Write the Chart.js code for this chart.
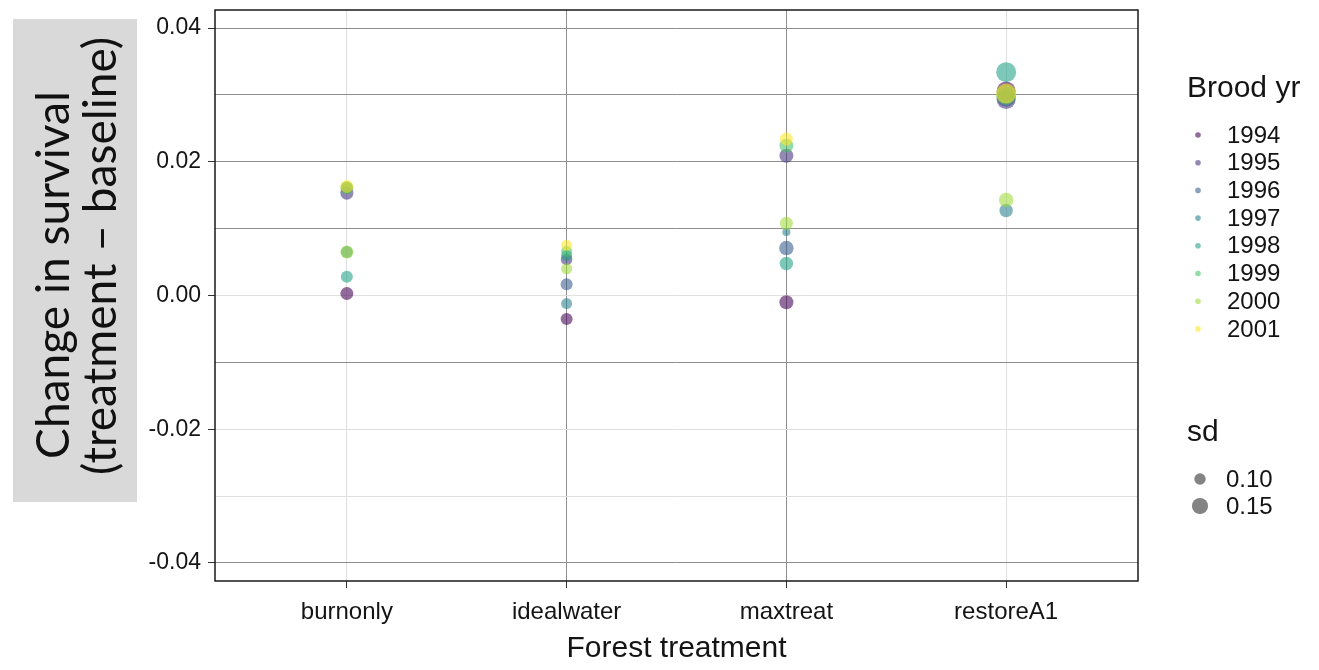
<!DOCTYPE html>
<html><head><meta charset="utf-8">
<script src="https://cdn.jsdelivr.net/npm/chart.js@4"></script>
<style>html,body{margin:0;padding:0;background:#fff;}#wrap{width:1319px;height:670px;}</style>
</head><body><div id="wrap"><canvas id="c" width="1319" height="670"></canvas></div>
<script>
// ---------- data ----------
const categories = ['burnonly', 'idealwater', 'maxtreat', 'restoreA1'];
const broodYears = ['1994', '1995', '1996', '1997', '1998', '1999', '2000', '2001'];
// change in survival per brood year (1994..2001) for each treatment
const changeBurnonly   = [0.0003, 0.0153, 0.0161, 0.0065, 0.0028, 0.0161, 0.0065, 0.0163];
const changeIdealwater = [-0.0035, 0.0054, 0.0017, -0.0012, 0.0060, 0.0066, 0.0040, 0.0075];
const changeMaxtreat   = [-0.0010, 0.0209, 0.0071, 0.0095, 0.0048, 0.0224, 0.0108, 0.0234];
const changeRestoreA1  = [0.0306, 0.0293, 0.0297, 0.0127, 0.0334, 0.0300, 0.0143, 0.0302];
// sd per brood year for each treatment
const sdBurnonly   = [0.11, 0.11, 0.10, 0.10, 0.10, 0.11, 0.11, 0.11];
const sdIdealwater = [0.10, 0.095, 0.10, 0.09, 0.09, 0.09, 0.09, 0.09];
const sdMaxtreat   = [0.12, 0.12, 0.125, 0.06, 0.115, 0.12, 0.11, 0.11];
const sdRestoreA1  = [0.17, 0.17, 0.17, 0.115, 0.18, 0.18, 0.125, 0.18];
// axis ticks
const yTickValues = [-0.04, -0.03, -0.02, -0.01, 0.00, 0.01, 0.02, 0.03, 0.04];
const yTickLabels = ['-0.04', '', '-0.02', '', '0.00', '', '0.02', '', '0.04'];
const sdLegendValues = [0.10, 0.15];
const sdLegendLabels = ['0.10', '0.15'];

// ---------- style ----------
const yearColors = ['#440154', '#46337E', '#365C8D', '#277F8E', '#1FA187', '#4AC16D', '#9FDA3A', '#FDE725'];
const ALPHA = 0.58;
function rgba(hex, a) {
  const n = parseInt(hex.slice(1), 16);
  return `rgba(${(n >> 16) & 255},${(n >> 8) & 255},${n & 255},${a})`;
}
function sdRadius(sd) { return 6 + (sd - 0.10) * 50; }
const DARK = '#8e8e8e', LIGHT = '#e0e0e0';
const yGridShade = [DARK, LIGHT, LIGHT, DARK, LIGHT, DARK, DARK, DARK, DARK];
const xGridShade = [LIGHT, DARK, DARK, LIGHT];
const FONT = '"Liberation Sans", Arial, sans-serif';

const changeByCat = [changeBurnonly, changeIdealwater, changeMaxtreat, changeRestoreA1];
const sdByCat = [sdBurnonly, sdIdealwater, sdMaxtreat, sdRestoreA1];

const datasets = broodYears.map((yr, j) => ({
  label: yr,
  order: broodYears.length - j,   // later years drawn on top
  data: categories.map((c, i) => ({ x: i + 1, y: changeByCat[i][j], r: sdRadius(sdByCat[i][j]) })),
  backgroundColor: rgba(yearColors[j], ALPHA),
  borderWidth: 0,
  hoverRadius: 0
}));

const TXT = '#141414';
const decor = {
  id: 'decor',
  beforeDraw(chart) {
    const ctx = chart.ctx;
    ctx.save();
    ctx.fillStyle = '#fff';
    ctx.fillRect(0, 0, chart.width, chart.height);
    // y title box
    ctx.fillStyle = '#d9d9d9';
    ctx.fillRect(13, 19, 124, 483);
    ctx.fillStyle = '#111';
    const l1 = 'Change in survival', l2 = '(treatment \u2013 baseline)';
    ctx.font = '40px Lato';
    const sz = 40 * 368 / ctx.measureText(l1).width;
    ctx.font = sz.toFixed(1) + 'px Lato';
    ctx.textAlign = 'center';
    ctx.textBaseline = 'middle';
    ctx.save(); ctx.translate(54, 275); ctx.rotate(-Math.PI / 2); ctx.fillText(l1, 0, 0); ctx.restore();
    ctx.save(); ctx.translate(101, 256); ctx.rotate(-Math.PI / 2); ctx.fillText(l2, 0, 0); ctx.restore();
    ctx.restore();
  },
  afterDraw(chart) {
    const { ctx, chartArea: a } = chart;
    ctx.save();
    ctx.strokeStyle = '#1a1a1a';
    ctx.lineWidth = 1.5;
    ctx.strokeRect(a.left, a.top, a.right - a.left, a.bottom - a.top);
    // x title
    ctx.fillStyle = TXT;
    ctx.font = '30px ' + FONT;
    ctx.textAlign = 'center';
    ctx.textBaseline = 'middle';
    ctx.fillText('Forest treatment', (a.left + a.right) / 2, 649);
    // legend: Brood yr
    ctx.textAlign = 'left';
    ctx.font = '30px ' + FONT;
    ctx.fillText('Brood yr', 1187, 89);
    ctx.font = '24px ' + FONT;
    broodYears.forEach((yr, j) => {
      const y = 135 + j * 27.7;
      ctx.fillStyle = rgba(yearColors[j], ALPHA);
      ctx.beginPath(); ctx.arc(1198, y, 2.8, 0, Math.PI * 2); ctx.fill();
      ctx.fillStyle = TXT;
      ctx.fillText(yr, 1227, y + 1);
    });
    // legend: sd
    ctx.font = '30px ' + FONT;
    ctx.fillText('sd', 1187, 433);
    ctx.font = '24px ' + FONT;
    sdLegendValues.forEach((v, k) => {
      const y = 479 + k * 27;
      ctx.fillStyle = 'rgba(80,80,80,0.7)';
      ctx.beginPath(); ctx.arc(1200, y, sdRadius(v) * 0.95, 0, Math.PI * 2); ctx.fill();
      ctx.fillStyle = TXT;
      ctx.fillText(sdLegendLabels[k], 1226, y + 1);
    });
    ctx.restore();
  }
};

new Chart(document.getElementById('c'), {
  type: 'bubble',
  data: { datasets },
  options: {
    responsive: false,
    animation: false,
    events: [],
    layout: { padding: { top: 8, right: 181, left: 0, bottom: 0 } },
    plugins: { legend: { display: false }, tooltip: { enabled: false } },
    scales: {
      x: {
        type: 'linear', min: 0.4, max: 4.6,
        afterBuildTicks: s => { s.ticks = categories.map((c, i) => ({ value: i + 1 })); },
        afterFit: s => { s.height = 89; s.paddingLeft = 0; s.paddingRight = 0; },
        ticks: {
          callback: v => categories[v - 1],
          font: { family: FONT, size: 24 }, color: TXT, padding: 10, maxRotation: 0
        },
        grid: {
          color: c => xGridShade[c.index] || LIGHT, lineWidth: 1,
          tickColor: '#333', tickLength: 7, drawTicks: true
        },
        border: { display: false }
      },
      y: {
        type: 'linear', min: -0.0427, max: 0.0427,
        afterBuildTicks: s => { s.ticks = yTickValues.map(v => ({ value: v })); },
        afterFit: s => { s.width = 215; s.paddingTop = 0; s.paddingBottom = 0; },
        ticks: {
          callback: (v, i) => yTickLabels[i],
          font: { family: FONT, size: 23 }, color: TXT, padding: 7
        },
        grid: {
          color: c => yGridShade[c.index] || LIGHT, lineWidth: 1,
          tickColor: c => (yTickLabels[c.index] ? '#333' : 'rgba(0,0,0,0)'), tickLength: 7, drawTicks: true
        },
        border: { display: false }
      }
    }
  },
  plugins: [decor]
});
</script>
</body></html>
